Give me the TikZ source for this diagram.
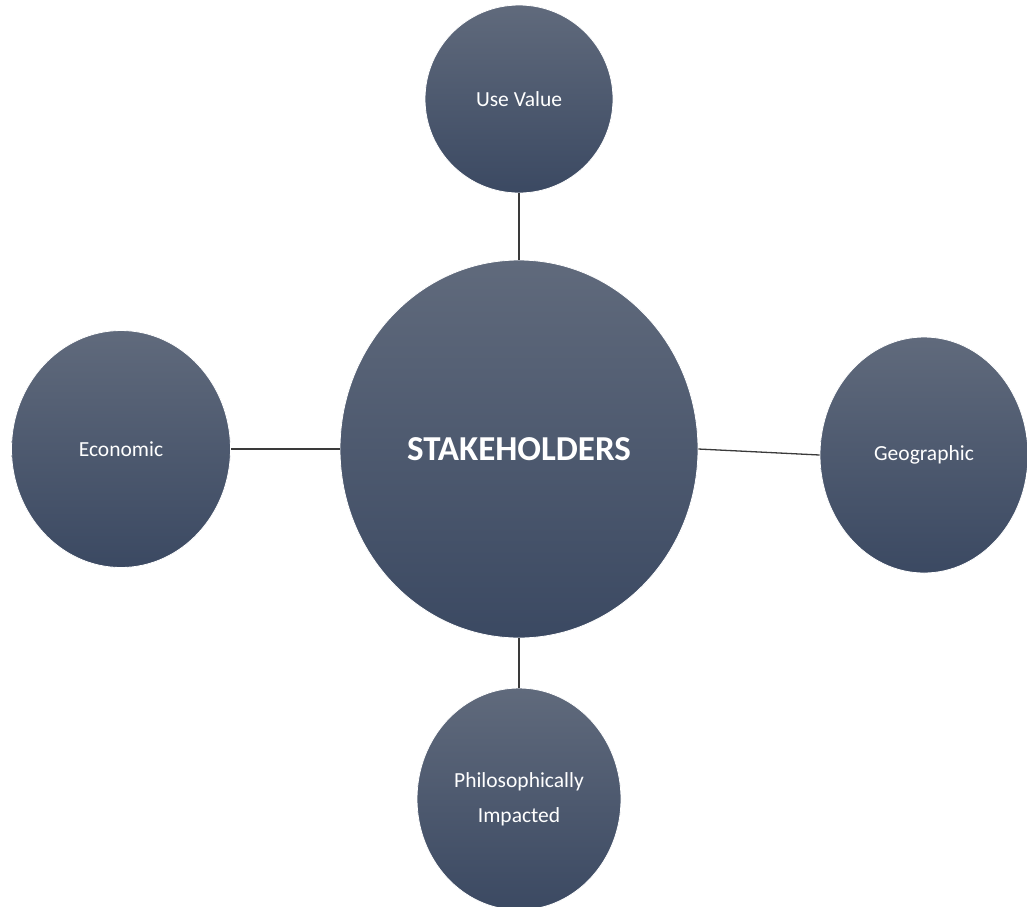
\documentclass[tikz,border=0pt]{standalone}
\usepackage{fontspec}
\setmainfont{Carlito}
\usetikzlibrary{shapes.geometric}
\definecolor{bubbletop}{HTML}{606A7C}
\definecolor{bubblebot}{HTML}{3B4962}
\definecolor{linkgray}{HTML}{3A3A3A}
\tikzset{
  bubble/.style={ellipse, inner sep=0pt, draw=white, line width=0.8pt,
    top color=bubbletop, bottom color=bubblebot, text=white, align=center,
    font=\fontsize{21.5}{35}\selectfont},
  link/.style={draw=linkgray, line width=1.3pt}
}
\begin{document}
\begin{tikzpicture}[x=1pt,y=-1pt]
\useasboundingbox (0,0) rectangle (1027,906);

\node[bubble, minimum width=358pt, minimum height=378pt, font=\fontsize{35}{40}\selectfont\bfseries] (stake) at (519,449) {STAKEHOLDERS};
\node[bubble, minimum width=188pt, minimum height=188pt] (usev) at (519,99) {Use Value};
\node[bubble, minimum width=219pt, minimum height=237pt] (econ) at (121,449) {Economic};
\node[bubble, minimum width=208pt, minimum height=236pt] (geo) at (924,455) {Geographic};
\node[bubble, minimum width=204pt, minimum height=222pt] (philo) at (519,799) {Philosophically\\Impacted};

\draw[link] (usev.south) -- (stake.north);
\draw[link] (econ.east) -- (stake.west);
\draw[link] (stake.east) -- (geo.west);
\draw[link] (stake.south) -- (philo.north);
\end{tikzpicture}
\end{document}
